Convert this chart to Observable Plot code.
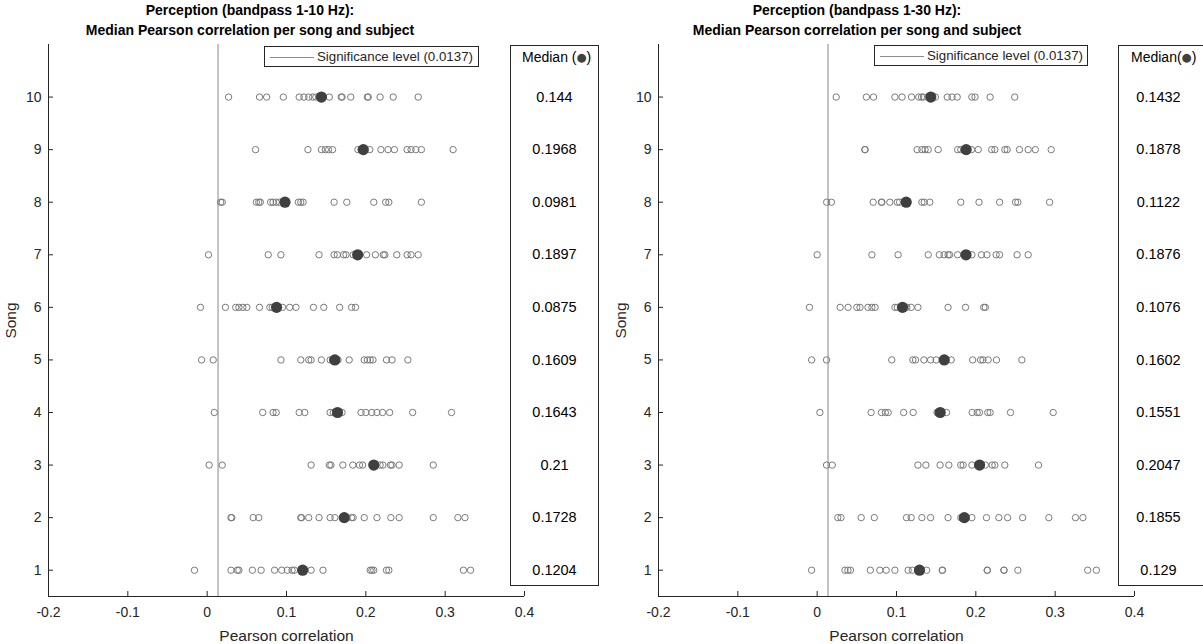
<!DOCTYPE html>
<html>
<head>
<meta charset="utf-8">
<script src="https://cdn.jsdelivr.net/npm/d3@7"></script>
<script src="https://cdn.jsdelivr.net/npm/@observablehq/plot@0.6"></script>
<style>
  html, body { margin: 0; padding: 0; background: #fff; overflow: hidden; }
  body { font-family: "Liberation Sans", Arial, sans-serif; }
  #wrap { position: relative; width: 1203px; height: 644px; }
  .title { position: absolute; top: 0; width: 500px; text-align: center; font-weight: bold; font-size: 14px; line-height: 20px; color: #000; }
  .panel { position: absolute; top: 40px; }
  .mbox { position: absolute; border: 1px solid #262626; box-sizing: border-box; background: transparent; }
  .mhead { position: absolute; top: 3px; left: 0; right: 0; text-align: center; font-size: 14px; color: #000; white-space: nowrap; }
  .dotg { font-family: "DejaVu Sans", sans-serif; font-size: 11.5px; color: #404040; position: relative; top: -1px; }
  .legend { position: absolute; border: 1px solid #262626; box-sizing: border-box; height: 21px; background: #fff; font-size: 13.3px; color: #262626; white-space: nowrap; }
  .legend .ln { position: absolute; left: 5px; top: 10px; width: 44px; border-top: 1px solid #8c8c8c; }
  .legend .tx { position: absolute; left: 52px; top: 2px; }
</style>
</head>
<body>
<div id="wrap">
  <div class="title" style="left:0px;">Perception (bandpass 1-10 Hz):<br>Median Pearson correlation per song and subject</div>
  <div class="title" style="left:607px;">Perception (bandpass 1-30 Hz):<br>Median Pearson correlation per song and subject</div>
  <div id="left" class="panel" style="left:0px;"></div>
  <div id="right" class="panel" style="left:610px;"></div>
  <div class="mbox" style="left:510px; top:45px; width:89px; height:541px;"><div class="mhead" style="text-align:left; left:11px;">Median (<span class="dotg">●</span>)</div></div>
  <div class="mbox" style="left:1118px; top:45px; width:92px; height:541px;"><div class="mhead" style="text-align:left; left:12px;">Median(<span class="dotg">●</span>)</div></div>
  <div class="legend" style="left:264px; top:46px; width:215px;"><div class="ln"></div><div class="tx">Significance level (0.0137)</div></div>
  <div class="legend" style="left:874px; top:45px; width:214px;"><div class="ln"></div><div class="tx">Significance level (0.0137)</div></div>
</div>
<script>
// ---- data ----
const songs = [1, 2, 3, 4, 5, 6, 7, 8, 9, 10];
const xTicks = [-0.2, -0.1, 0, 0.1, 0.2, 0.3, 0.4];
const significance = 0.0137;

// medians per song (songs 1..10)
const median10 = [0.1204, 0.1728, 0.21, 0.1643, 0.1609, 0.0875, 0.1897, 0.0981, 0.1968, 0.144];
const median30 = [0.129, 0.1855, 0.2047, 0.1551, 0.1602, 0.1076, 0.1876, 0.1122, 0.1878, 0.1432];

// per-subject correlations, bandpass 1-10 Hz (index = song - 1)
const corr10 = [
  [-0.016, 0.030, 0.038, 0.040, 0.057, 0.068, 0.085, 0.094, 0.101, 0.107, 0.110, 0.1204, 0.131, 0.146, 0.2055, 0.2076, 0.210, 0.226, 0.229, 0.323, 0.332],
  [0.030, 0.031, 0.058, 0.065, 0.118, 0.119, 0.128, 0.141, 0.155, 0.161, 0.1728, 0.182, 0.184, 0.198, 0.214, 0.2316, 0.242, 0.285, 0.316, 0.325],
  [0.0025, 0.019, 0.131, 0.154, 0.156, 0.171, 0.1836, 0.192, 0.196, 0.21, 0.218, 0.2215, 0.231, 0.233, 0.242, 0.285],
  [0.009, 0.070, 0.083, 0.087, 0.116, 0.123, 0.155, 0.159, 0.1643, 0.170, 0.194, 0.200, 0.2075, 0.214, 0.221, 0.230, 0.259, 0.308],
  [-0.007, 0.0076, 0.093, 0.118, 0.128, 0.131, 0.144, 0.155, 0.158, 0.1609, 0.165, 0.179, 0.198, 0.202, 0.2055, 0.209, 0.226, 0.233, 0.253],
  [-0.0084, 0.023, 0.036, 0.040, 0.045, 0.050, 0.066, 0.079, 0.082, 0.0875, 0.095, 0.104, 0.112, 0.134, 0.147, 0.167, 0.182, 0.187],
  [0.0017, 0.077, 0.093, 0.141, 0.160, 0.164, 0.172, 0.175, 0.184, 0.1897, 0.201, 0.212, 0.222, 0.224, 0.239, 0.252, 0.257, 0.266],
  [0.017, 0.019, 0.062, 0.065, 0.067, 0.080, 0.083, 0.087, 0.091, 0.0981, 0.115, 0.118, 0.121, 0.160, 0.176, 0.210, 0.225, 0.229, 0.270],
  [0.061, 0.127, 0.144, 0.149, 0.153, 0.158, 0.190, 0.194, 0.1968, 0.205, 0.219, 0.228, 0.236, 0.252, 0.257, 0.263, 0.270, 0.310],
  [0.027, 0.066, 0.075, 0.096, 0.116, 0.122, 0.128, 0.133, 0.137, 0.144, 0.154, 0.169, 0.170, 0.181, 0.202, 0.203, 0.218, 0.2345, 0.266]
];

// per-subject correlations, bandpass 1-30 Hz (index = song - 1)
const corr30 = [
  [-0.007, 0.035, 0.0387, 0.042, 0.067, 0.079, 0.087, 0.098, 0.1147, 0.120, 0.129, 0.138, 0.1576, 0.158, 0.2143, 0.2146, 0.2353, 0.2356, 0.253, 0.341, 0.352],
  [0.026, 0.030, 0.0555, 0.072, 0.1126, 0.1185, 0.132, 0.143, 0.165, 0.181, 0.1855, 0.195, 0.2134, 0.229, 0.240, 0.259, 0.292, 0.3256, 0.335],
  [0.0118, 0.019, 0.127, 0.137, 0.155, 0.166, 0.181, 0.184, 0.195, 0.2047, 0.212, 0.2206, 0.224, 0.2365, 0.279],
  [0.0034, 0.068, 0.081, 0.086, 0.0895, 0.109, 0.121, 0.151, 0.1551, 0.163, 0.1954, 0.2017, 0.2046, 0.215, 0.218, 0.2437, 0.2975],
  [-0.007, 0.0118, 0.094, 0.1206, 0.124, 0.1345, 0.143, 0.150, 0.1602, 0.169, 0.196, 0.206, 0.209, 0.2155, 0.226, 0.258],
  [-0.0097, 0.029, 0.039, 0.050, 0.054, 0.064, 0.069, 0.073, 0.098, 0.101, 0.1076, 0.113, 0.1185, 0.127, 0.165, 0.187, 0.210, 0.212],
  [0.000, 0.069, 0.102, 0.140, 0.154, 0.160, 0.165, 0.167, 0.177, 0.1876, 0.195, 0.207, 0.214, 0.2256, 0.230, 0.252, 0.266],
  [0.012, 0.018, 0.0706, 0.081, 0.0815, 0.0916, 0.101, 0.104, 0.1122, 0.132, 0.135, 0.142, 0.181, 0.204, 0.230, 0.250, 0.253, 0.293],
  [0.060, 0.0605, 0.126, 0.132, 0.136, 0.140, 0.1525, 0.177, 0.181, 0.1878, 0.1945, 0.203, 0.220, 0.224, 0.2365, 0.2395, 0.255, 0.266, 0.275, 0.295],
  [0.024, 0.062, 0.071, 0.098, 0.107, 0.119, 0.128, 0.1315, 0.134, 0.1432, 0.149, 0.164, 0.170, 0.1765, 0.195, 0.199, 0.218, 0.249]
];

function panel(el, corr, medians, width, marginRight, textDx) {
  const pts = corr.flatMap((arr, i) => arr.map(v => ({song: songs[i], r: v})));
  const med = medians.map((m, i) => ({song: songs[i], r: m}));
  const chart = Plot.plot({
    width: width,
    height: 604,
    marginLeft: 48,
    marginRight: marginRight,
    marginTop: 4,
    marginBottom: 48,
    style: {fontFamily: "'Liberation Sans', Arial, sans-serif", fontSize: "14px", color: "#262626", background: "transparent", overflow: "visible"},
    x: {domain: [-0.2, 0.4]},
    y: {domain: [0.5, 11]},
    marks: [
      Plot.ruleX([significance], {stroke: "#9a9a9a", strokeWidth: 1.2}),
      Plot.ruleY([0.5], {stroke: "#262626"}),
      Plot.ruleX([-0.2], {stroke: "#262626"}),
      Plot.dot(pts, {x: "r", y: "song", r: 3.2, stroke: "#7a7a7a", strokeWidth: 1, fill: "none"}),
      Plot.dot(med, {x: "r", y: "song", r: 5.6, fill: "#404040", stroke: "none"}),
      Plot.text(med, {y: "song", frameAnchor: "right", textAnchor: "middle", dx: textDx, text: d => String(d.r), fontSize: 14.5, fill: "#000"}),
      // inward tick marks
      Plot.axisX({ticks: xTicks, tickSize: -5, tickFormat: () => "", label: null}),
      Plot.axisY({ticks: songs, tickSize: -5, tickFormat: () => "", label: null}),
      // tick labels and axis titles
      Plot.axisX({ticks: xTicks, tickSize: 0, tickPadding: 11, tickFormat: d => String(d), label: "Pearson correlation", labelArrow: "none", labelAnchor: "center", labelOffset: 44, fontSize: 14}),
      Plot.axisY({ticks: songs, tickSize: 0, tickPadding: 7, tickFormat: d => String(d), label: "Song", labelArrow: "none", labelAnchor: "center", labelOffset: 44, fontSize: 14})
    ]
  });
  chart.querySelectorAll("[aria-label='x-axis label'] text, [aria-label='y-axis label'] text").forEach(t => t.setAttribute("font-size", "15.5"));
  document.getElementById(el).appendChild(chart);
}

panel("left", corr10, median10, 600, 76, 30);
panel("right", corr30, median30, 593, 69, 24);
</script>
</body>
</html>
